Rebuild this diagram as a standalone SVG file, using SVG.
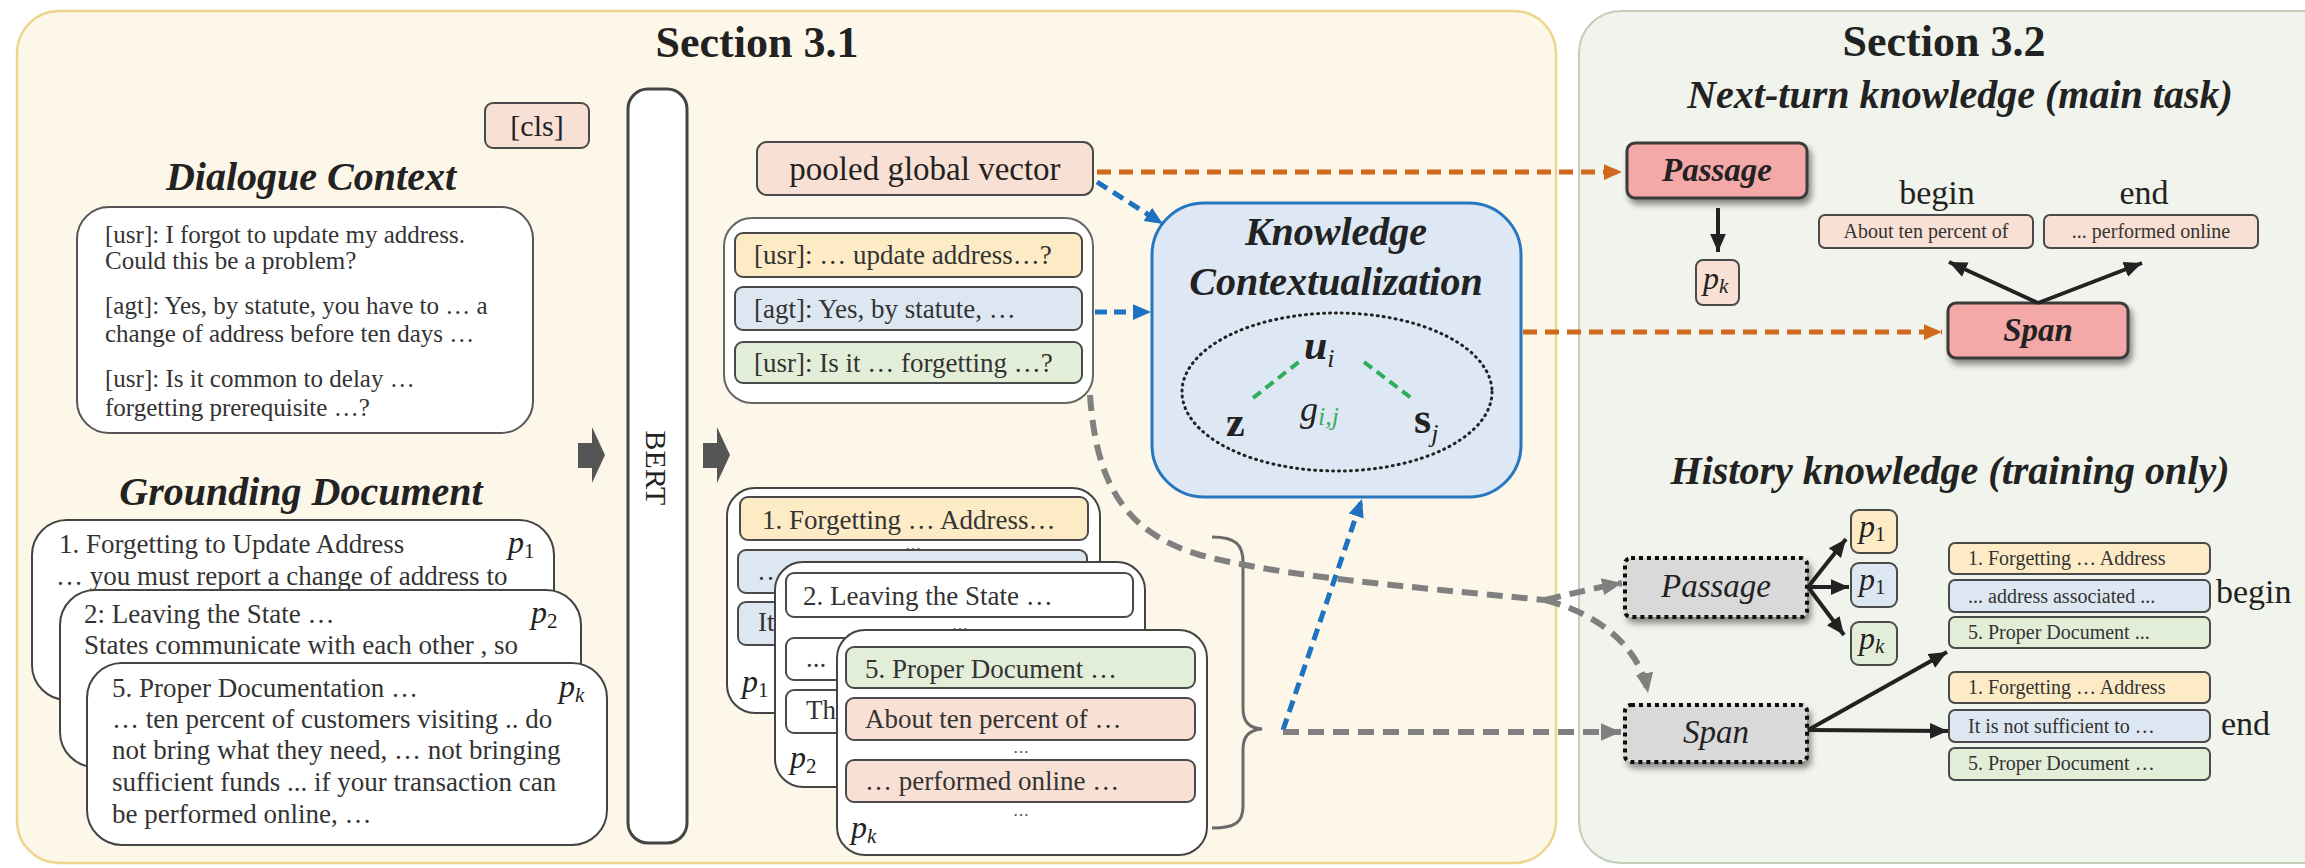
<svg xmlns="http://www.w3.org/2000/svg" width="2305" height="868" viewBox="0 0 2305 868">
<style>
  text { font-family: 'Liberation Serif', 'Times New Roman', serif; fill: #222; }
  .ttl { font-size: 44px; font-weight: bold; text-anchor: middle; }
  .hd { font-size: 40px; font-weight: bold; font-style: italic; text-anchor: middle; }
  .dlg { font-size: 25px; fill: #333; }
  .doc { font-size: 27px; fill: #333; }
  .mid { font-size: 27px; fill: #333; }
  .sm { font-size: 20px; fill: #333; }
  .lbl { font-size: 34px; }
  .pv { font-size: 32px; font-style: italic; }
  .sub { font-size: 21px; font-style: normal; }
  .subi { font-size: 21px; font-style: italic; }
  .ell { font-size: 16px; text-anchor: middle; fill: #444; }
  .card { fill: #fff; stroke: #444; stroke-width: 2; }
  .box { stroke: #4a4a4a; stroke-width: 2; }
  .yel { fill: #fcebc5; }
  .blu { fill: #dde7f2; }
  .grn { fill: #e3eed9; }
  .pch { fill: #f9e0d4; }
  .wht { fill: #fff; }
  .pink { fill: #f4a8a8; stroke: #3a3a3a; stroke-width: 3; }
  .dot { fill: #d9d9d9; stroke: #111; stroke-width: 4; stroke-dasharray: 4 4; }
  .dash-o { fill: none; stroke: #d0691c; stroke-width: 5; stroke-dasharray: 14 8; }
  .dash-b { fill: none; stroke: #1e72bf; stroke-width: 5; stroke-dasharray: 12 7; }
  .dash-g { fill: none; stroke: #808080; stroke-width: 6; stroke-dasharray: 16 9; }
  .dash-gr { fill: none; stroke: #2fae5a; stroke-width: 4; stroke-dasharray: 10 6; }
  .solid { fill: none; stroke: #222; stroke-width: 4; }
  .blk { fill: #555; }
</style>
<defs>
  <marker id="ah-o" markerUnits="userSpaceOnUse" viewBox="0 0 16 16" markerWidth="18" markerHeight="18" refX="16" refY="8" orient="auto"><path d="M0,1 L16,8 L0,15 z" fill="#d0691c"/></marker>
  <marker id="ah-b" markerUnits="userSpaceOnUse" viewBox="0 0 16 16" markerWidth="18" markerHeight="18" refX="16" refY="8" orient="auto"><path d="M0,1 L16,8 L0,15 z" fill="#1e72bf"/></marker>
  <marker id="ah-g" markerUnits="userSpaceOnUse" viewBox="0 0 16 16" markerWidth="20" markerHeight="20" refX="16" refY="8" orient="auto"><path d="M0,1 L16,8 L0,15 z" fill="#808080"/></marker>
  <marker id="ah-k" markerUnits="userSpaceOnUse" viewBox="0 0 16 16" markerWidth="18" markerHeight="18" refX="16" refY="8" orient="auto"><path d="M0,1 L16,8 L0,15 z" fill="#222"/></marker>
  <filter id="shadow" x="-20%" y="-20%" width="140%" height="160%">
    <feDropShadow dx="3" dy="5" stdDeviation="3" flood-color="#000" flood-opacity="0.45"/>
  </filter>
</defs>

<!-- panels -->
<g id="panel-31">
  <rect x="17" y="11" width="1539" height="852" rx="42" fill="#fdf7e9" stroke="#efd48c" stroke-width="2.5"/>
  <text class="ttl" x="757" y="57">Section 3.1</text>
</g>
<g id="panel-32">
  <rect x="1579" y="11" width="780" height="852" rx="42" fill="#f0f4ec" stroke="#c3cdb8" stroke-width="2"/>
  <text class="ttl" x="1944" y="56">Section 3.2</text>
  <text class="hd" x="1960" y="108">Next-turn knowledge (main task)</text>
  <text class="hd" x="1950" y="484">History knowledge (training only)</text>
</g>

<!-- dialogue context -->
<g id="dialogue-context">
  <text class="hd" x="311" y="190">Dialogue Context</text>
  <rect x="77" y="207" width="456" height="226" rx="32" fill="#fff" stroke="#555" stroke-width="2"/>
  <text class="dlg" x="105" y="243">[usr]: I forgot to update my address.</text>
  <text class="dlg" x="105" y="269">Could this be a problem?</text>
  <text class="dlg" x="105" y="314">[agt]: Yes, by statute, you have to … a</text>
  <text class="dlg" x="105" y="342">change of address before ten days …</text>
  <text class="dlg" x="105" y="387">[usr]: Is it common to delay …</text>
  <text class="dlg" x="105" y="416">forgetting prerequisite …?</text>
</g>

<!-- grounding document -->
<g id="grounding-document">
  <text class="hd" x="301" y="505">Grounding Document</text>
  <rect class="card" x="32" y="520" width="522" height="180" rx="35"/>
  <text class="doc" x="59" y="553">1. Forgetting to Update Address</text>
  <text class="pv" x="508" y="553">p<tspan class="sub" dy="5">1</tspan></text>
  <text class="doc" x="56" y="585">… you must report a change of address to</text>
  <rect class="card" x="60" y="590" width="521" height="177" rx="35"/>
  <text class="doc" x="84" y="623">2: Leaving the State …</text>
  <text class="pv" x="531" y="623">p<tspan class="sub" dy="5">2</tspan></text>
  <text class="doc" x="84" y="654">States communicate with each other , so</text>
  <rect class="card" x="87" y="663" width="520" height="182" rx="35"/>
  <text class="doc" x="112" y="697">5. Proper Documentation …</text>
  <text class="pv" x="559" y="697">p<tspan class="subi" dy="5">k</tspan></text>
  <text class="doc" x="112" y="728">… ten percent of customers visiting .. do</text>
  <text class="doc" x="112" y="759">not bring what they need, … not bringing</text>
  <text class="doc" x="112" y="791">sufficient funds ... if your transaction can</text>
  <text class="doc" x="112" y="823">be performed online, …</text>
</g>

<!-- encoder -->
<g id="cls-token">
  <rect class="box pch" x="485" y="103" width="104" height="45" rx="8"/>
  <text x="537" y="136" font-size="30" text-anchor="middle" fill="#333">[cls]</text>
</g>
<g id="bert">
  <rect x="628" y="89" width="59" height="754" rx="20" fill="#fff" stroke="#444" stroke-width="3"/>
  <text transform="translate(646,468) rotate(90)" font-size="30" text-anchor="middle">BERT</text>
</g>
<g id="feed-arrows">
  <polygon class="blk" points="578,443 592,443 592,427 605,455 592,483 592,468 578,468"/>
  <polygon class="blk" points="703,443 717,443 717,427 730,455 717,483 717,468 703,468"/>
</g>

<!-- encoder outputs -->
<g id="pooled-vector">
  <rect class="box pch" x="757" y="142" width="336" height="53" rx="10"/>
  <text x="925" y="180" font-size="33" text-anchor="middle" fill="#333">pooled global vector</text>
</g>
<g id="utterances">
  <rect x="724" y="218" width="369" height="185" rx="28" fill="#fff" stroke="#666" stroke-width="2"/>
  <rect class="box yel" x="735" y="233" width="347" height="44" rx="8"/>
  <text class="mid" x="754" y="264">[usr]: … update address…?</text>
  <rect class="box blu" x="735" y="287" width="347" height="43" rx="8"/>
  <text class="mid" x="754" y="318">[agt]: Yes, by statute, …</text>
  <rect class="box grn" x="735" y="342" width="347" height="41" rx="8"/>
  <text class="mid" x="754" y="372">[usr]: Is it … forgetting …?</text>
</g>

<g id="passage-p1">
  <rect class="card" x="727" y="488" width="373" height="225" rx="28"/>
  <rect class="box yel" x="740" y="497" width="348" height="43" rx="8"/>
  <text class="mid" x="762" y="529">1. Forgetting … Address…</text>
  <text class="ell" x="913" y="550">…</text>
  <rect class="box blu" x="738" y="550" width="349" height="43" rx="8"/>
  <text class="mid" x="757" y="580">…</text>
  <rect class="box blu" x="738" y="602" width="349" height="43" rx="8"/>
  <text class="mid" x="758" y="631">It</text>
  <text class="pv" x="742" y="692">p<tspan class="sub" dy="5">1</tspan></text>
</g>
<g id="passage-p2">
  <rect class="card" x="775" y="562" width="370" height="225" rx="28"/>
  <rect class="box wht" x="786" y="573" width="347" height="44" rx="8"/>
  <text class="mid" x="803" y="605">2. Leaving the State  …</text>
  <text class="ell" x="960" y="630">…</text>
  <rect class="box wht" x="786" y="638" width="347" height="42" rx="8"/>
  <text class="mid" x="806" y="667">...</text>
  <rect class="box wht" x="786" y="690" width="347" height="43" rx="8"/>
  <text class="mid" x="806" y="719">Th</text>
  <text class="pv" x="790" y="768">p<tspan class="sub" dy="5">2</tspan></text>
</g>
<g id="passage-pk">
  <rect class="card" x="837" y="630" width="370" height="225" rx="28"/>
  <rect class="box grn" x="846" y="647" width="349" height="41" rx="8"/>
  <text class="mid" x="865" y="678">5. Proper Document …</text>
  <rect class="box pch" x="846" y="698" width="349" height="42" rx="8"/>
  <text class="mid" x="865" y="728">About ten percent of …</text>
  <text class="ell" x="1021" y="753">…</text>
  <rect class="box pch" x="846" y="760" width="349" height="42" rx="8"/>
  <text class="mid" x="865" y="790">… performed online …</text>
  <text class="ell" x="1021" y="816">…</text>
  <text class="pv" x="851" y="838">p<tspan class="subi" dy="5">k</tspan></text>
</g>
<g id="brace">
  <path d="M1212,537 C1236,537 1243,545 1243,562 L1243,708 C1243,722 1249,728 1262,729 C1249,730 1243,736 1243,750 L1243,806 C1243,822 1236,828 1212,828" fill="none" stroke="#6a6a6a" stroke-width="3"/>
</g>

<!-- knowledge contextualization -->
<g id="knowledge-contextualization">
  <rect x="1152" y="203" width="369" height="294" rx="52" fill="#dde8f4" stroke="#2677c0" stroke-width="3"/>
  <text class="hd" x="1336" y="245">Knowledge</text>
  <text class="hd" x="1336" y="295">Contextualization</text>
  <ellipse cx="1337" cy="392" rx="155" ry="79" fill="none" stroke="#222" stroke-width="3" stroke-dasharray="1 5" stroke-linecap="round"/>
  <line class="dash-gr" x1="1253" y1="398" x2="1300" y2="361"/>
  <line class="dash-gr" x1="1364" y1="362" x2="1414" y2="400"/>
  <text x="1304" y="359" font-size="42" font-weight="bold" font-style="italic">u<tspan font-size="26" font-weight="normal" dy="8">i</tspan></text>
  <text x="1226" y="436" font-size="42" font-weight="bold">z</text>
  <text x="1414" y="433" font-size="44" font-weight="bold">s<tspan font-size="26" font-weight="normal" font-style="italic" dy="9">j</tspan></text>
  <text x="1300" y="421" font-size="36" font-style="italic" fill="#3aae5f">g<tspan font-size="26" dy="4" fill="#3aae5f">i,j</tspan></text>
</g>

<!-- next-turn knowledge -->
<g id="next-passage">
  <rect class="pink" x="1627" y="143" width="180" height="55" rx="8" filter="url(#shadow)"/>
  <text x="1717" y="181" font-size="33" font-weight="bold" font-style="italic" text-anchor="middle">Passage</text>
</g>
<g id="next-pk">
  <rect class="box pch" x="1696" y="260" width="43" height="45" rx="7"/>
  <text class="pv" x="1703" y="289" font-size="30">p<tspan class="subi" dy="4" font-size="19">k</tspan></text>
</g>
<g id="next-span">
  <rect class="pink" x="1948" y="303" width="180" height="55" rx="8" filter="url(#shadow)"/>
  <text x="2038" y="341" font-size="33" font-weight="bold" font-style="italic" text-anchor="middle">Span</text>
</g>
<g id="next-begin">
  <text class="lbl" x="1937" y="204" text-anchor="middle">begin</text>
  <rect class="box pch" x="1819" y="215" width="214" height="33" rx="6"/>
  <text class="sm" x="1926" y="238" text-anchor="middle">About ten percent of</text>
</g>
<g id="next-end">
  <text class="lbl" x="2144" y="204" text-anchor="middle">end</text>
  <rect class="box pch" x="2044" y="215" width="214" height="33" rx="6"/>
  <text class="sm" x="2151" y="238" text-anchor="middle">... performed online</text>
</g>

<!-- history knowledge -->
<g id="hist-passage">
  <rect class="dot" x="1625" y="558" width="182" height="59" rx="6" filter="url(#shadow)"/>
  <text x="1716" y="597" font-size="33" font-style="italic" text-anchor="middle">Passage</text>
</g>
<g id="hist-span">
  <rect class="dot" x="1625" y="705" width="182" height="57" rx="6" filter="url(#shadow)"/>
  <text x="1716" y="743" font-size="33" font-style="italic" text-anchor="middle">Span</text>
</g>
<g id="hist-p">
  <rect class="box yel" x="1851" y="510" width="46" height="43" rx="8"/>
  <text class="pv" x="1859" y="537" font-size="30">p<tspan class="sub" dy="4" font-size="19">1</tspan></text>
  <rect class="box blu" x="1851" y="563" width="46" height="44" rx="8"/>
  <text class="pv" x="1859" y="590" font-size="30">p<tspan class="sub" dy="4" font-size="19">1</tspan></text>
  <rect class="box grn" x="1851" y="622" width="46" height="43" rx="8"/>
  <text class="pv" x="1859" y="649" font-size="30">p<tspan class="subi" dy="4" font-size="19">k</tspan></text>
</g>
<g id="hist-begin">
  <rect class="box yel" x="1949" y="543" width="261" height="31" rx="6"/>
  <text class="sm" x="1968" y="565">1. Forgetting … Address</text>
  <rect class="box blu" x="1949" y="580" width="261" height="32" rx="6"/>
  <text class="sm" x="1968" y="603">... address associated ...</text>
  <rect class="box grn" x="1949" y="617" width="261" height="31" rx="6"/>
  <text class="sm" x="1968" y="639">5. Proper Document ...</text>
  <text class="lbl" x="2216" y="603">begin</text>
</g>
<g id="hist-end">
  <rect class="box yel" x="1949" y="672" width="261" height="31" rx="6"/>
  <text class="sm" x="1968" y="694">1. Forgetting … Address</text>
  <rect class="box blu" x="1949" y="710" width="261" height="32" rx="6"/>
  <text class="sm" x="1968" y="733">It is not sufficient to …</text>
  <rect class="box grn" x="1949" y="748" width="261" height="32" rx="6"/>
  <text class="sm" x="1968" y="770">5. Proper Document …</text>
  <text class="lbl" x="2221" y="735">end</text>
</g>

<!-- connectors -->
<g id="connectors">
  <path class="dash-o" d="M1097,172 L1622,172" marker-end="url(#ah-o)"/>
  <path class="dash-o" d="M1523,332 L1942,332" marker-end="url(#ah-o)"/>
  <path class="dash-b" d="M1097,182 L1163,224" marker-end="url(#ah-b)"/>
  <path class="dash-b" d="M1095,312 L1151,312" marker-end="url(#ah-b)"/>
  <path class="dash-b" d="M1283,730 L1362,499" marker-end="url(#ah-b)"/>
  <path class="dash-g" d="M1090,395 C1096,480 1122,532 1200,555 C1280,576 1400,586 1545,600"/>
  <path class="dash-g" d="M1545,600 Q1585,590 1622,583" marker-end="url(#ah-g)"/>
  <path class="dash-g" d="M1545,600 C1600,614 1640,648 1648,693" marker-end="url(#ah-g)"/>
  <path class="dash-g" d="M1283,732 L1621,732" marker-end="url(#ah-g)"/>
  <path class="solid" d="M1718,208 L1718,252" marker-end="url(#ah-k)"/>
  <path class="solid" d="M2038,303 L1949,262" marker-end="url(#ah-k)"/>
  <path class="solid" d="M2038,303 L2142,263" marker-end="url(#ah-k)"/>
  <path class="solid" d="M1808,587 L1846,539" marker-end="url(#ah-k)"/>
  <path class="solid" d="M1808,587 L1849,587" marker-end="url(#ah-k)"/>
  <path class="solid" d="M1808,587 L1844,635" marker-end="url(#ah-k)"/>
  <path class="solid" d="M1808,730 L1947,652" marker-end="url(#ah-k)"/>
  <path class="solid" d="M1808,730 L1948,731" marker-end="url(#ah-k)"/>
</g>
</svg>
